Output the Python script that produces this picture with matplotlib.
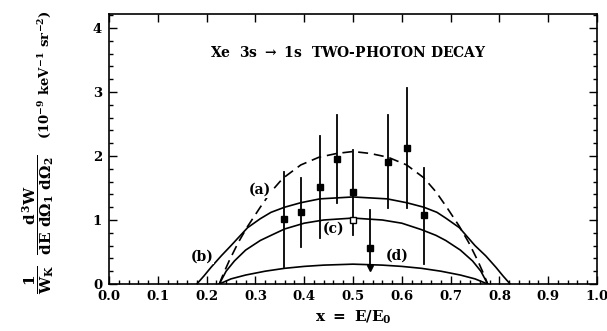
import matplotlib
matplotlib.use("Agg")
import matplotlib.pyplot as plt
from matplotlib.ticker import MultipleLocator

plt.rcParams['font.family'] = ['DejaVu Serif']
plt.rcParams['font.weight'] = 'bold'
plt.rcParams['mathtext.fontset'] = 'custom'
plt.rcParams['mathtext.rm'] = 'DejaVu Serif:bold'
plt.rcParams['mathtext.it'] = 'DejaVu Serif:bold'
plt.rcParams['mathtext.bf'] = 'DejaVu Serif:bold'

# ---- data ----
# curve (a): dashed
a_x = [0.226, 0.235, 0.247, 0.265, 0.284, 0.31, 0.332, 0.356, 0.393, 0.43, 0.467, 0.5,
       0.535, 0.572, 0.61, 0.645, 0.67, 0.692, 0.718, 0.737, 0.755, 0.767, 0.776]
a_y = [0.0, 0.17, 0.375, 0.65, 0.9, 1.2, 1.44, 1.65, 1.86, 1.98, 2.04, 2.07,
       2.04, 1.98, 1.86, 1.66, 1.44, 1.2, 0.9, 0.65, 0.375, 0.17, 0.0]
# curve (b)
b_x = [0.18, 0.195, 0.209, 0.23, 0.25, 0.284, 0.31, 0.332, 0.36, 0.393, 0.432, 0.5,
       0.57, 0.61, 0.645, 0.672, 0.69, 0.718, 0.75, 0.772, 0.793, 0.807, 0.822]
b_y = [0.0, 0.13, 0.26, 0.44, 0.6, 0.88, 1.02, 1.12, 1.2, 1.27, 1.33, 1.36,
       1.33, 1.27, 1.2, 1.12, 1.03, 0.88, 0.6, 0.44, 0.26, 0.13, 0.0]
# curve (c)
c_x = [0.226, 0.24, 0.257, 0.28, 0.31, 0.332, 0.36, 0.40, 0.44, 0.5,
       0.56, 0.60, 0.64, 0.67, 0.69, 0.72, 0.745, 0.762, 0.776]
c_y = [0.0, 0.2, 0.36, 0.53, 0.68, 0.76, 0.86, 0.95, 1.0, 1.03,
       1.0, 0.95, 0.85, 0.76, 0.68, 0.53, 0.36, 0.2, 0.0]
# curve (d)
d_x = [0.226, 0.25, 0.28, 0.32, 0.36, 0.40, 0.44, 0.5, 0.56, 0.60, 0.64, 0.68, 0.72, 0.75, 0.776]
d_y = [0.0, 0.08, 0.14, 0.2, 0.245, 0.275, 0.295, 0.31, 0.295, 0.275, 0.245, 0.2, 0.14, 0.08, 0.0]

# measured points (filled squares)
pt_x = [0.358, 0.393, 0.432, 0.467, 0.5, 0.572, 0.611, 0.645]
pt_y = [1.01, 1.12, 1.52, 1.95, 1.43, 1.90, 2.12, 1.08]
pt_lo = [0.26, 0.58, 0.72, 1.27, 0.77, 1.18, 1.18, 0.32]
pt_hi = [1.75, 1.65, 2.31, 2.64, 2.09, 2.64, 3.06, 1.81]
# upper-limit point
ul_x = [0.535]
ul_y = [0.56]
ul_hi = [1.15]
ul_lo = [0.25]
# open square
open_x = [0.5]
open_y = [1.0]

curve_labels = ['(a)', '(b)', '(c)', '(d)']
label_pos = [(0.31, 1.47), (0.19, 0.43), (0.46, 0.87), (0.59, 0.44)]

fig = plt.figure(figsize=(6.07, 3.31), dpi=100)
ax = fig.add_axes([0.1796, 0.142, 0.8039, 0.816])

lw = 1.2
ax.plot(a_x, a_y, color='black', lw=lw, dashes=(6, 3.5))
ax.plot(b_x, b_y, color='black', lw=lw)
ax.plot(c_x, c_y, color='black', lw=lw)
ax.plot(d_x, d_y, color='black', lw=lw)

for x, y, lo, hi in zip(pt_x, pt_y, pt_lo, pt_hi):
    ax.plot([x, x], [lo, hi], color='black', lw=1.3)
ax.plot(pt_x, pt_y, 's', color='black', ms=4.5, zorder=5)

for x, y, lo, hi in zip(ul_x, ul_y, ul_lo, ul_hi):
    ax.plot([x, x], [lo, hi], color='black', lw=1.3)
ax.plot(ul_x, ul_y, 's', color='black', ms=4.2, zorder=5)
ax.plot(ul_x, ul_lo, 'v', color='black', ms=4.5, zorder=5)

ax.plot(open_x, open_y, 's', mfc='white', mec='black', mew=1.0, ms=5, zorder=6)

for lab, (lx, ly) in zip(curve_labels, label_pos):
    ax.text(lx, ly, lab, ha='center', va='center', fontsize=10, fontweight='bold',
            bbox=dict(facecolor='white', edgecolor='none', pad=0.5))

ax.text(0.49, 3.61, r'Xe  3s $\rightarrow$ 1s  TWO-PHOTON DECAY', ha='center', va='center',
        fontsize=10, fontweight='bold')

ax.set_xlim(0, 1)
ax.set_ylim(0, 4.22)
ax.xaxis.set_major_locator(MultipleLocator(0.1))
ax.xaxis.set_minor_locator(MultipleLocator(0.02))
ax.yaxis.set_major_locator(MultipleLocator(1))
ax.yaxis.set_minor_locator(MultipleLocator(0.2))
ax.xaxis.set_major_formatter(matplotlib.ticker.FormatStrFormatter('%.1f'))
ax.tick_params(which='both', direction='in', top=True, right=True, width=1.0)
ax.tick_params(which='major', length=6, labelsize=9.5)
ax.tick_params(axis='x', which='major', pad=4.5)
ax.tick_params(axis='y', which='major', pad=5)
ax.tick_params(which='minor', length=3)
ax.tick_params(axis='x', which='minor', top=False)
for s in ax.spines.values():
    s.set_linewidth(1.2)
for t in ax.get_xticklabels() + ax.get_yticklabels():
    t.set_fontweight('bold')

ax.set_xlabel(r'$x\ =\ E/E_0$', fontsize=11, labelpad=4)

fig.text(0.064, 0.112, r'$\dfrac{1}{W_K}\ \ \dfrac{d^3W}{dE\ d\Omega_1\ d\Omega_2}$',
         rotation=90, ha='center', va='bottom', fontsize=11)
fig.text(0.074, 0.97, r'$(10^{-9}\ keV^{-1}\ sr^{-2})$',
         rotation=90, ha='center', va='top', fontsize=9.5)

fig.savefig('out.png', dpi=100)
